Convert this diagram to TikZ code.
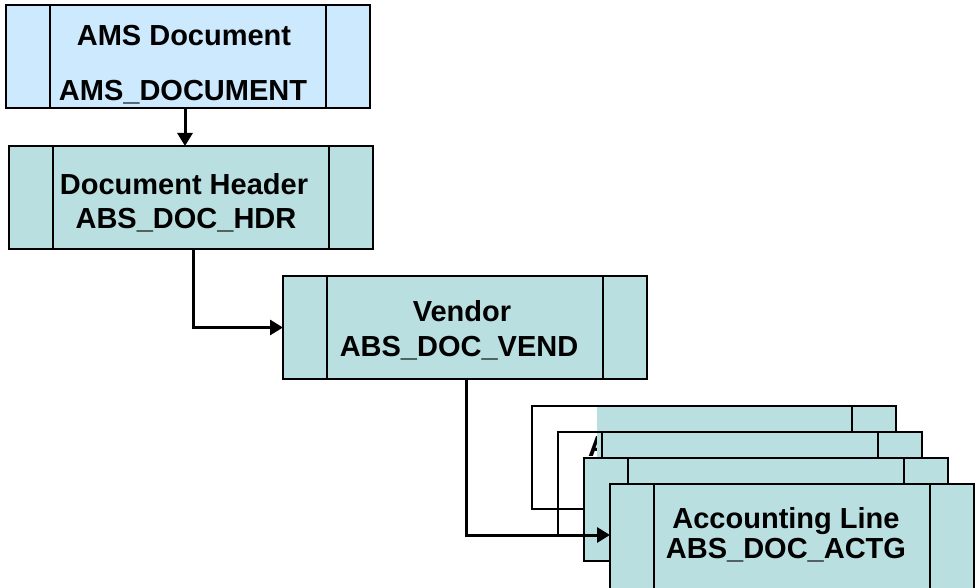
\documentclass[tikz,border=0pt]{standalone}
\usepackage{fontspec}
\setmainfont{Liberation Sans}
\usepackage{tikz}
\usetikzlibrary{arrows.meta}
\definecolor{amsblue}{RGB}{205,233,253}
\definecolor{boxteal}{RGB}{185,223,225}

% bars on the left and right side of a box
\newcommand{\sidebars}[1]{%
    \draw[boxline] ([xshift=44pt]#1.north west) -- ([xshift=44pt]#1.south west);
    \draw[boxline] ([xshift=-44pt]#1.north east) -- ([xshift=-44pt]#1.south east);}

\begin{document}
\begin{tikzpicture}[x=1pt, y=-1pt,
    boxline/.style={line width=1.5pt, black},
    tabbox/.style={boxline, draw, fill=boxteal, rectangle, minimum width=364pt,
        minimum height=103pt, inner sep=0pt, outer sep=0pt},
    title/.style={font=\fontsize{29}{31}\selectfont\bfseries, inner sep=0pt,
        text height=21.1pt, text depth=0pt},
    link/.style={line width=3pt, -{Triangle[length=13pt, width=15pt]}}]
    \useasboundingbox (0,0) rectangle (977,588);

    % Document tables
    \node[tabbox, fill=amsblue] (ams) at (188,56.5) {};
    \node[tabbox] (hdr) at (191,197.5) {};
    \node[tabbox] (vend) at (465,327.5) {};
    \sidebars{ams}
    \sidebars{hdr}
    \sidebars{vend}

    % Names of the tables
    \node[title] (amsName) at (184,35) {AMS Document};
    \node[title] (amsTab) at (183,90) {AMS\_DOCUMENT};
    \node[title] (hdrName) at (184,184) {Document Header};
    \node[title] (hdrTab) at (186,218) {ABS\_DOC\_HDR};
    \node[title] (vendName) at (462,311) {Vendor};
    \node[title] (vendTab) at (459,346) {ABS\_DOC\_VEND};

    % Stack of accounting lines, back to front
    \node[tabbox, fill=none] (actgA) at (714,457.5) {};
    \fill[boxteal] ([xshift=65pt]actgA.north west) rectangle (actgA.south east);
    \draw[boxline] (actgA.north west) rectangle (actgA.south east);
    \draw[boxline] ([xshift=-44pt]actgA.north east) -- ([xshift=-44pt]actgA.south east);
    \node[title] (ghostA) at (598.5,446) {A};

    \node[tabbox, fill=none] (actgB) at (740,483.5) {};
    \fill[boxteal] ([xshift=39pt]actgB.north west) rectangle (actgB.south east);
    \draw[boxline] (actgB.north west) rectangle (actgB.south east);
    \sidebars{actgB}

    \node[tabbox] (actgC) at (766,509.5) {};
    \sidebars{actgC}
    \node[tabbox, minimum height=108pt] (actgD) at (792,538) {};
    \sidebars{actgD}
    \node[title] (actgName) at (786,518) {Accounting Line};
    \node[title] (actgTab) at (786,548) {ABS\_DOC\_ACTG};

    % Links between the tables
    \draw[link] ([xshift=-3pt]ams.south) -- ([xshift=-3pt]ams.south |- hdr.north);
    \draw[link] ([xshift=2pt]hdr.south) |- (vend.west);
    \draw[link] ([xshift=1pt]vend.south) |- ([yshift=3pt]actgD.west);
\end{tikzpicture}
\end{document}
